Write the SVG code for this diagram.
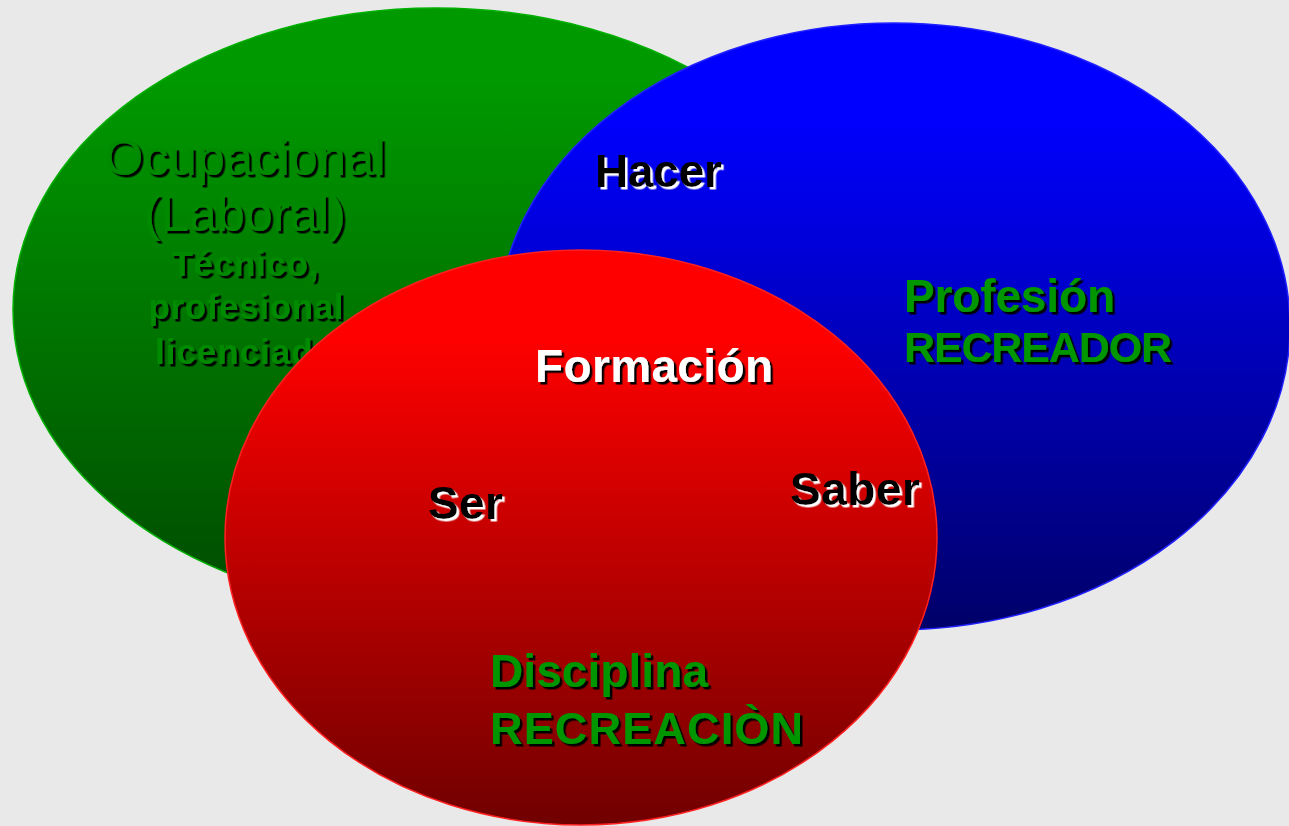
<svg xmlns="http://www.w3.org/2000/svg" width="1289" height="826" viewBox="0 0 1289 826">
<defs>
<linearGradient id="gG" x1="0" y1="0" x2="0" y2="1"><stop offset="0.12" stop-color="#009900"/><stop offset="1" stop-color="#004a00"/></linearGradient>
<linearGradient id="gB" x1="0" y1="0" x2="0" y2="1"><stop offset="0.15" stop-color="#0000ff"/><stop offset="1" stop-color="#000068"/></linearGradient>
<linearGradient id="gR" x1="0" y1="0" x2="0" y2="1"><stop offset="0.15" stop-color="#ff0000"/><stop offset="1" stop-color="#700000"/></linearGradient>
<filter id="shB" x="-10%" y="-20%" width="130%" height="150%"><feDropShadow dx="2.5" dy="2.5" stdDeviation="0" flood-color="#000000"/></filter>
<filter id="shW" x="-10%" y="-20%" width="130%" height="150%"><feDropShadow dx="2.5" dy="2.5" stdDeviation="0" flood-color="#ffffff"/></filter>
</defs>
<style>
text{font-family:"Liberation Sans",Arial,sans-serif;}
.b{font-weight:bold;}
.g{fill:#009600;filter:url(#shB);}
.go{fill:#008a00;filter:url(#shB);}
.k{fill:#000000;filter:url(#shW);}
.w{fill:#ffffff;filter:url(#shB);}
</style>
<rect width="1289" height="826" fill="#e9e9e9"/>
<g id="ocupacional">
<ellipse cx="436" cy="310" rx="423" ry="302" fill="url(#gG)" stroke="#00b000" stroke-width="1.5"/>
<text class="go" x="245" y="175" font-size="50" text-anchor="middle" textLength="281">Ocupacional</text>
<text class="go" x="245" y="231" font-size="50" text-anchor="middle" textLength="202">(Laboral)</text>
<text class="go b" x="245" y="276" font-size="35" text-anchor="middle" textLength="147">Técnico,</text>
<text class="go b" x="246" y="319" font-size="35" text-anchor="middle" textLength="195">profesional</text>
<text class="go b" x="155" y="364" font-size="35" textLength="180">licenciado</text>
</g>
<g id="profesion">
<ellipse cx="894" cy="326.5" rx="396" ry="303.5" fill="url(#gB)" stroke="#2020ff" stroke-width="1.5"/>
<text class="k b" x="595" y="187" font-size="46" textLength="127">Hacer</text>
<text class="g b" x="904" y="312" font-size="46" textLength="211">Profesión</text>
<text class="g b" x="904" y="362" font-size="43" textLength="268">RECREADOR</text>
</g>
<g id="disciplina">
<ellipse cx="581" cy="537.5" rx="356" ry="287.5" fill="url(#gR)" stroke="#ff2020" stroke-width="1.5"/>
<text class="w b" x="535" y="382" font-size="46" textLength="238">Formación</text>
<text class="k b" x="428" y="519" font-size="46" textLength="75">Ser</text>
<text class="k b" x="790" y="505" font-size="46" textLength="130">Saber</text>
<text class="g b" x="490" y="687" font-size="46" textLength="218">Disciplina</text>
<text class="g b" x="490" y="744" font-size="45" textLength="313">RECREACIÒN</text>
</g>
<g id="connectors"/>
</svg>
